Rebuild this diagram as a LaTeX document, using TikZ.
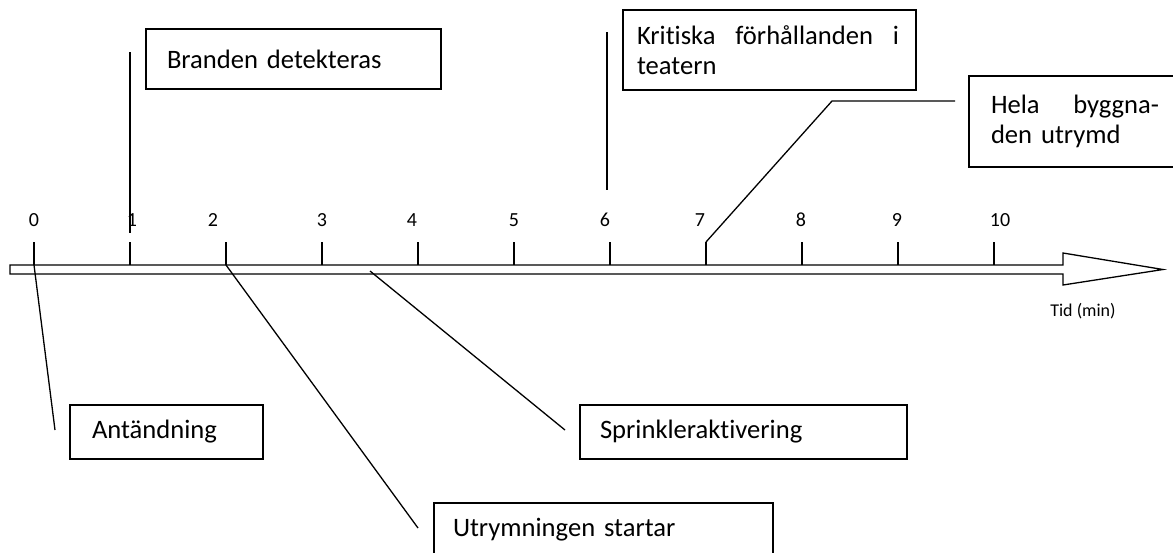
\documentclass[tikz,border=0pt]{standalone}
\usepackage{fontspec}
\setmainfont{Carlito}[Ligatures=NoCommon]
\begin{document}
\begin{tikzpicture}[x=0.5pt,y=-0.5pt,line width=0.65pt,
  event/.style={draw,rectangle,inner ysep=0pt,align=left,
    font=\fontsize{13.3}{15}\selectfont},
  num/.style={inner sep=0pt,font=\fontsize{10}{12}\selectfont},
  leader/.style={line width=0.65pt}]
\clip (0,0) rectangle (1173,552);

% time axis drawn as a hollow block arrow
\draw (10,265) -- (1063,265) -- (1063,253) -- (1163,269.5) -- (1063,285)
      -- (1063,274) -- (10,274) -- cycle;
\node[inner sep=0pt,font=\fontsize{9}{11}\selectfont] (tid) at (1083,311) {Tid (min)};

% ticks and minute labels
\foreach \i/\lx in {0/34,1/132,2/213,3/322,4/412,5/514,6/605,7/700,8/801,9/897,10/1000}{
  \coordinate (t\i) at ({34+96*\i},242);
  \coordinate (b\i) at ({34+96*\i},265);
  \draw (t\i) -- (b\i);
  \node[num] (n\i) at (\lx,220) {\i};
}

% event boxes
\node[event,text width=126.5pt,inner xsep=10.5pt,minimum height=30pt] (detect) at (293.5,59) {Branden detekteras};
\node[event,text width=74.5pt,inner xsep=11pt,minimum height=27pt] (ignite) at (166.5,432) {Antändning};
\node[event,text width=143.5pt,inner xsep=10pt,minimum height=27pt] (sprink) at (743.5,432) {Sprinkleraktivering};
\node[event,text width=150.5pt,inner xsep=9.5pt,minimum height=27pt] (evac) at (603.5,530) {Utrymningen startar};
\node[event,text width=132.5pt,inner xsep=7pt,minimum height=40pt] (crit) at (769.5,50)
  {\makebox[131pt][l]{Kritiska\hfill förhållanden\hfill i}\\teatern};
\node[event,text width=84pt,inner xsep=11pt,minimum height=45.5pt] (clear) at (1075,121.5)
  {\makebox[84pt][l]{Hela\hfill byggna-}\\den utrymd};

% leader lines from the axis to the events
\coordinate (l0) at (55,430);
\draw[leader] (b0) -- (l0);

\coordinate (l1a) at (130,52);
\coordinate (l1b) at (130,233);
\draw[leader] (l1a) -- (l1b);

\coordinate (l2) at (418,528);
\draw[leader] (b2) -- (l2);

\coordinate (s0) at (370,271);
\coordinate (s1) at (565,430);
\draw[leader] (s0) -- (s1);

\coordinate (l6a) at (607,32);
\coordinate (l6b) at (607,190);
\draw[leader] (l6a) -- (l6b);

\coordinate (l7a) at (832,101);
\coordinate (l7b) at (955,101);
\draw[leader] (t7) -- (l7a) -- (l7b);
\end{tikzpicture}
\end{document}
